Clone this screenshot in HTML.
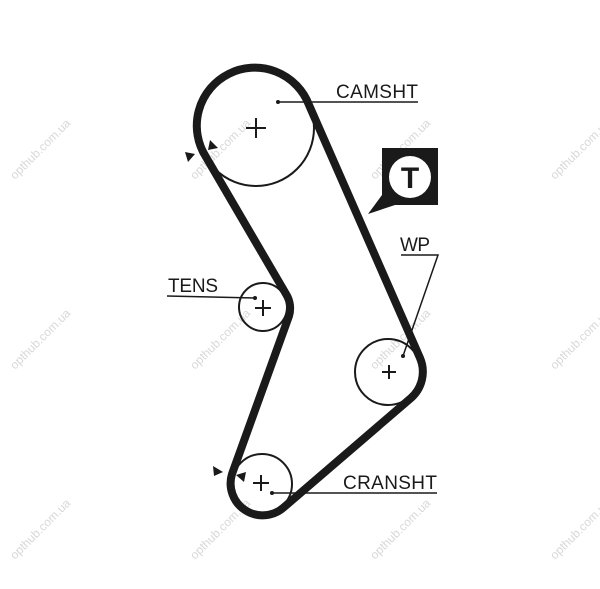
<!DOCTYPE html>
<html><head><style>
html,body{margin:0;padding:0;background:#fff;}
svg{display:block;}
text{font-family:"Liberation Sans",Arial,sans-serif;}
</style></head><body>
<svg width="600" height="589" viewBox="0 0 600 589" xmlns="http://www.w3.org/2000/svg">
<g fill="#d8d8d8" font-size="12">
<text transform="translate(15,180) rotate(-45)">opthub.com.ua</text>
<text transform="translate(195,180) rotate(-45)">opthub.com.ua</text>
<text transform="translate(375,180) rotate(-45)">opthub.com.ua</text>
<text transform="translate(555,180) rotate(-45)">opthub.com.ua</text>
<text transform="translate(15,370) rotate(-45)">opthub.com.ua</text>
<text transform="translate(195,370) rotate(-45)">opthub.com.ua</text>
<text transform="translate(375,370) rotate(-45)">opthub.com.ua</text>
<text transform="translate(555,370) rotate(-45)">opthub.com.ua</text>
<text transform="translate(15,560) rotate(-45)">opthub.com.ua</text>
<text transform="translate(195,560) rotate(-45)">opthub.com.ua</text>
<text transform="translate(375,560) rotate(-45)">opthub.com.ua</text>
<text transform="translate(555,560) rotate(-45)">opthub.com.ua</text>
</g>
<g fill="none" stroke="#1a1a1a" stroke-width="2">
<circle cx="256" cy="128" r="58"/>
<circle cx="263" cy="307" r="24"/>
<circle cx="388" cy="372" r="33"/>
<circle cx="262" cy="484" r="30"/>
</g>
<path d="M206,157 A58,58 0 1 1 309,105 L420,358 A35,35 0 0 1 411,398 L283,508 A32,32 0 0 1 232,474 L289,316 A27,27 0 0 0 286,294 Z" fill="none" stroke="#1a1a1a" stroke-width="8" stroke-linejoin="round"/>
<g stroke="#1a1a1a" stroke-width="2">
<line x1="246" y1="128" x2="266" y2="128"/><line x1="256" y1="118" x2="256" y2="138"/>
<line x1="255" y1="308" x2="271" y2="308"/><line x1="263" y1="300" x2="263" y2="316"/>
<line x1="382" y1="372" x2="396" y2="372"/><line x1="389" y1="365" x2="389" y2="379"/>
<line x1="253" y1="483" x2="269" y2="483"/><line x1="261" y1="475" x2="261" y2="491"/>
</g>
<g stroke="#1a1a1a" stroke-width="1.5" fill="none">
<polyline points="278,102 418,102"/>
<polyline points="167,296 255,298"/>
<polyline points="401,255 438,255 403,356"/>
<polyline points="272,493 437,493"/>
</g>
<g fill="#1a1a1a">
<circle cx="278" cy="102" r="2"/><circle cx="255" cy="298" r="2"/>
<circle cx="403" cy="356" r="2"/><circle cx="272" cy="493" r="2"/>
<polygon points="185,152 195,154 188,162"/>
<polygon points="210,140 218,148 208,150"/>
<polygon points="213,466 223,472 214,476"/>
<polygon points="236,475 246,472 244,482"/>
<polygon points="382,148 438,148 438,205 395,205 368,214 382,195"/>
</g>
<circle cx="410" cy="177" r="21" fill="#fff"/>
<text x="410" y="188" font-size="30" font-weight="bold" text-anchor="middle" fill="#1a1a1a">T</text>
<g fill="#1a1a1a" font-size="19">
<text x="336" y="98" textLength="82">CAMSHT</text>
<text x="168" y="292" textLength="50">TENS</text>
<text x="400" y="251" textLength="30">WP</text>
<text x="343" y="489" textLength="94">CRANSHT</text>
</g>
</svg>
</body></html>
